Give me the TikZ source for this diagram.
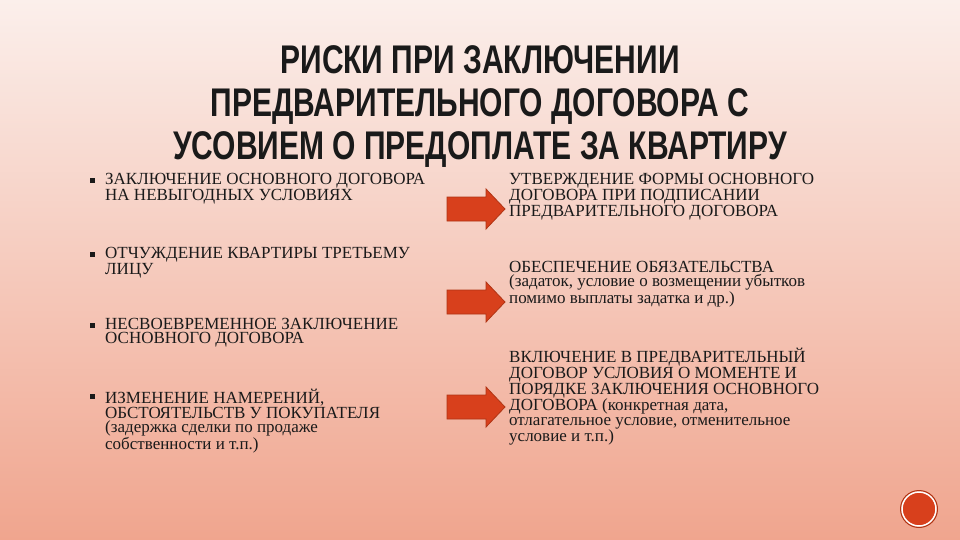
\documentclass[tikz,border=0pt]{standalone}
\usepackage{fontspec}
\setmainfont{Liberation Serif}
\newfontfamily\titlefont{Liberation Sans}
\definecolor{bgtop}{HTML}{FBEFEB}
\definecolor{bgbot}{HTML}{F0A58E}
\definecolor{arr}{HTML}{D8401C}
\definecolor{arrd}{HTML}{B03414}
\definecolor{txt}{HTML}{1A1A1A}
\begin{document}
\begin{tikzpicture}[x=1pt,y=-1pt,
  body/.style={anchor=north west,align=left,inner sep=0,text=txt,font=\fontsize{17}{14.5}\selectfont},
  bul/.style={anchor=north west,inner sep=0,minimum size=5pt,fill=txt},
  bigarrow/.style={fill=arr,draw=arrd,line width=0.8pt,line join=miter}]
\useasboundingbox (0,0) rectangle (960,540);
\shade[top color=bgtop,bottom color=bgbot] (0,0) rectangle (960,540);
\node (title) at (480,107) [align=center,inner sep=0,text=txt,font=\titlefont\bfseries\fontsize{40}{43}\selectfont] {\scalebox{0.75}[1]{РИСКИ ПРИ ЗАКЛЮЧЕНИИ}\\\scalebox{0.75}[1]{ПРЕДВАРИТЕЛЬНОГО ДОГОВОРА С}\\\scalebox{0.75}[1]{УСОВИЕМ О ПРЕДОПЛАТЕ ЗА КВАРТИРУ}};
\node[bul] (b1) at (90,178) {};
\node[body] (l1) at (105,173) {ЗАКЛЮЧЕНИЕ ОСНОВНОГО ДОГОВОРА\\НА НЕВЫГОДНЫХ УСЛОВИЯХ};
\node[bul] (b2) at (90,252) {};
\node[body] (l2) at (105,247) {ОТЧУЖДЕНИЕ КВАРТИРЫ ТРЕТЬЕМУ\\ЛИЦУ};
\node[bul] (b3) at (90,323) {};
\node[body] (l3) at (105,318) {НЕСВОЕВРЕМЕННОЕ ЗАКЛЮЧЕНИЕ\\ОСНОВНОГО ДОГОВОРА};
\node[bul] (b4) at (90,394) {};
\node[body] (l4) at (105,389) {ИЗМЕНЕНИЕ НАМЕРЕНИЙ,\\ОБСТОЯТЕЛЬСТВ У ПОКУПАТЕЛЯ\\(задержка сделки по продаже\\собственности и т.п.)};
\foreach \n/\y in {a1/209,a2/302,a3/407}{
  \draw[bigarrow] (447,\y-12) -- (486,\y-12) -- (486,\y-20) -- (505,\y) -- (486,\y+20) -- (486,\y+12) -- (447,\y+12) -- cycle;
  \coordinate (\n) at (476,\y);
}
\node[body] (r1) at (509,173) {УТВЕРЖДЕНИЕ ФОРМЫ ОСНОВНОГО\\ДОГОВОРА ПРИ ПОДПИСАНИИ\\ПРЕДВАРИТЕЛЬНОГО ДОГОВОРА};
\node[body] (r2) at (509,261) {ОБЕСПЕЧЕНИЕ ОБЯЗАТЕЛЬСТВА\\(задаток, условие о возмещении убытков\\помимо выплаты задатка и др.)};
\node[body] (r3) at (509,348) {ВКЛЮЧЕНИЕ В ПРЕДВАРИТЕЛЬНЫЙ\\ДОГОВОР УСЛОВИЯ О МОМЕНТЕ И\\ПОРЯДКЕ ЗАКЛЮЧЕНИЯ ОСНОВНОГО\\ДОГОВОРА (конкретная дата,\\отлагательное условие, отменительное\\условие и т.п.)};
\node (c) at (919,509) [circle,minimum size=34pt,fill=arr,draw=white,line width=1.5pt,inner sep=0] {};
\draw[arrd,line width=1pt] (c) circle (18.5);
\end{tikzpicture}
\end{document}
